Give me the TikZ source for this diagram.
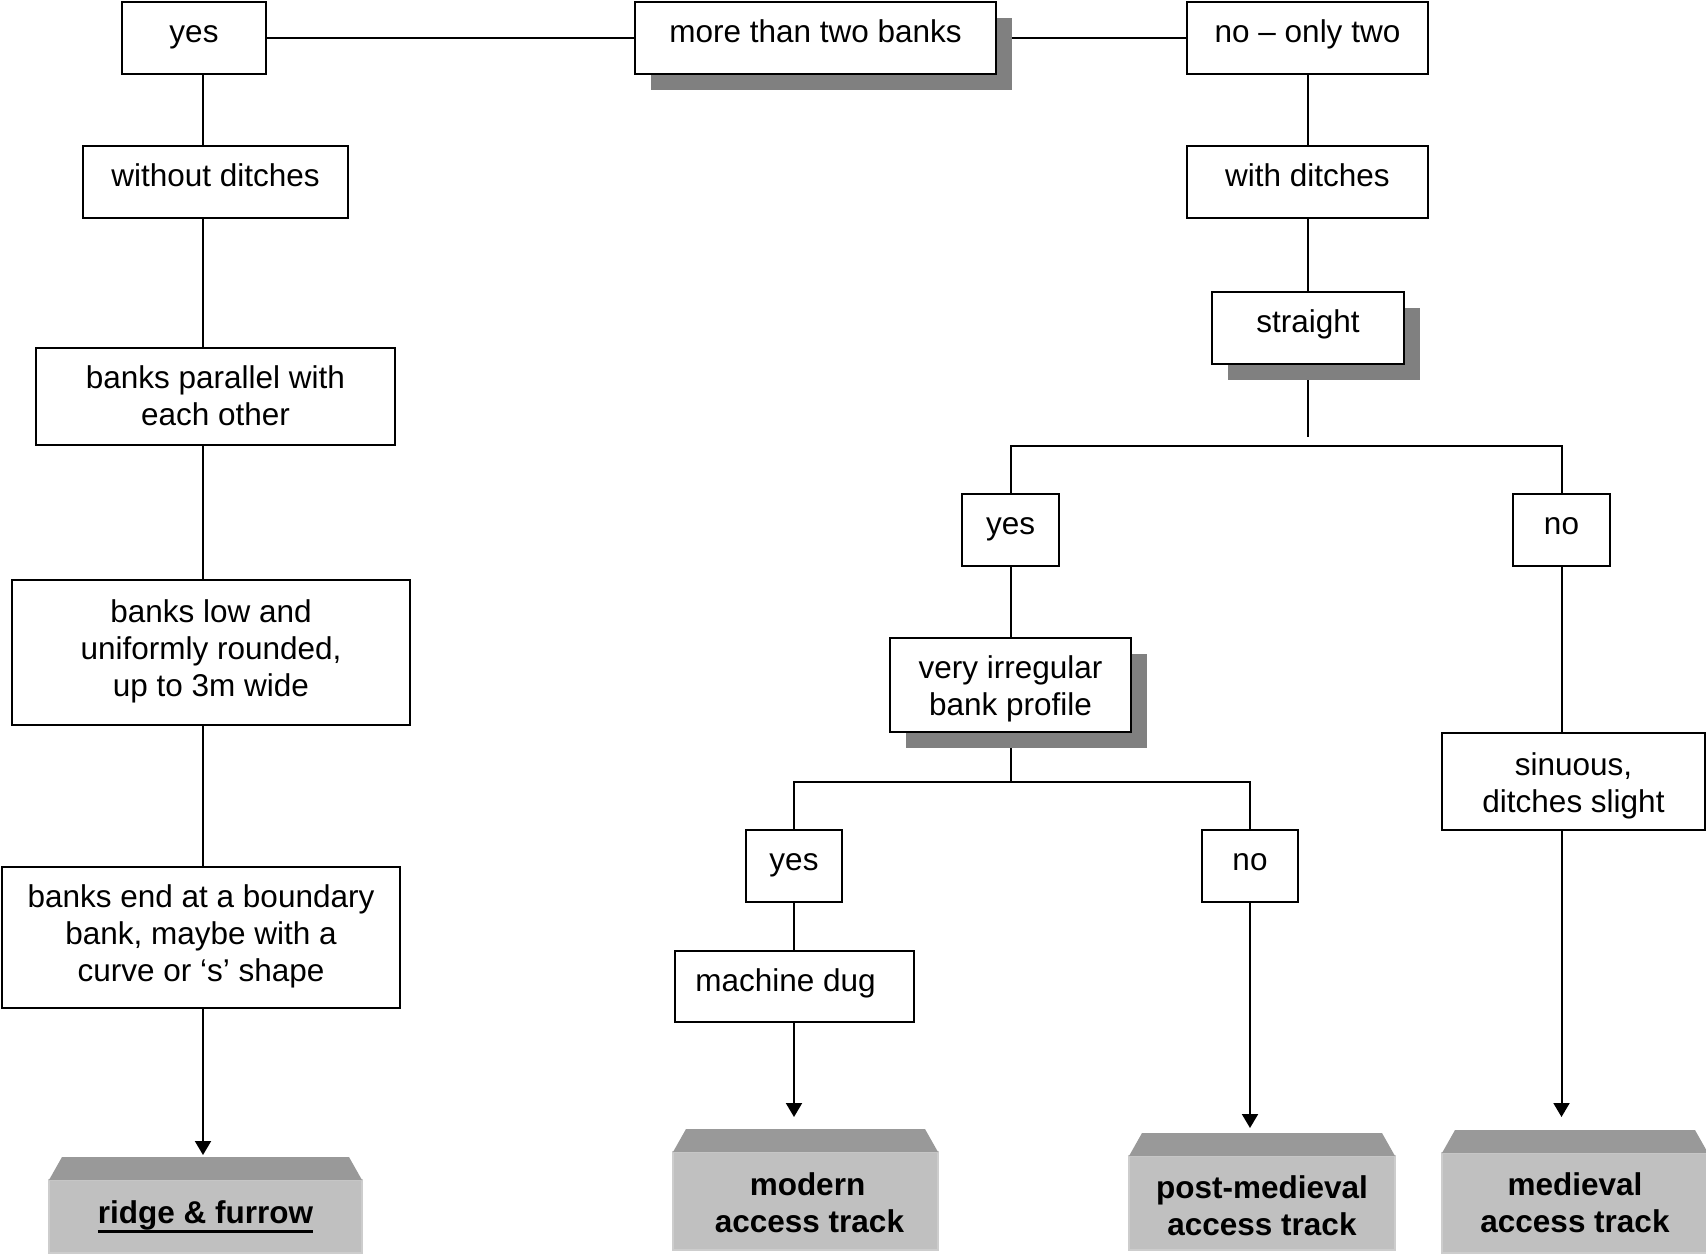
\documentclass[tikz,border=0pt]{standalone}
\usepackage{fontspec}
\setmainfont{Liberation Sans}
\usetikzlibrary{arrows.meta,shadows,backgrounds}
\definecolor{shadowgray}{HTML}{808080}
\definecolor{bevelgray}{HTML}{999999}
\definecolor{bodygray}{HTML}{C0C0C0}
\definecolor{edgegray}{HTML}{CDCDCD}
\newcommand\ulbar[1]{\setbox0=\hbox{#1}\rlap{\rule[-9.5pt]{\wd0}{3pt}}\box0}
\newcommand\hs[1]{\rule{0pt}{#1}}
\newcommand\ds[1]{\rule[-#1]{0pt}{#1}}
\tikzset{
  box/.style={draw=black, line width=2.2pt, fill=white, inner sep=0pt, align=center,
    font=\fontsize{31.5}{37}\selectfont},
  shadowed/.style={box, drop shadow={shadow xshift=16pt, shadow yshift=-16pt, fill=shadowgray, opacity=1}},
  term/.style={draw=edgegray, line width=1.5pt, fill=bodygray, inner sep=0pt, outer sep=0pt, align=center,
    font=\bfseries\fontsize{31.5}{37}\selectfont},
  bevel/.style={fill=bevelgray},
  conn/.style={draw=black, line width=2pt},
  arr/.style={conn, -{Triangle[width=16pt,length=14pt]}}
}
\begin{document}
\begin{tikzpicture}[x=1pt,y=-1pt]
\useasboundingbox (0,0) rectangle (1706,1254);
% decision boxes
\node[box, minimum width=144pt, minimum height=72pt] (yes1) at (194,38) {\strut yes\ds{17pt}};
\node[shadowed, minimum width=361pt, minimum height=72pt] (more) at (815.5,38) {\strut more than two banks\ds{17pt}};
\node[box, minimum width=241pt, minimum height=72pt] (no1) at (1307.5,38) {\strut no – only two\ds{17pt}};
\node[box, minimum width=265pt, minimum height=72pt] (without) at (215.5,182) {\strut without ditches\ds{17pt}};
\node[box, minimum width=241pt, minimum height=72pt] (with) at (1307.5,182) {\strut with ditches\ds{17pt}};
\node[shadowed, minimum width=192pt, minimum height=72pt] (straight) at (1308,328) {\strut straight\ds{17pt}};
\node[box, minimum width=359pt, minimum height=97pt] (parallel) at (215.5,396.5) {\hs{32pt}banks parallel with\\\strut each other};
\node[box, minimum width=398pt, minimum height=145pt] (low) at (211,652.5) {\strut banks low and\\\strut uniformly rounded,\\\strut up to 3m wide};
\node[box, minimum width=398pt, minimum height=141pt] (boundary) at (201,937.5) {\strut banks end at a boundary\\\strut bank, maybe with a\\\strut curve or ‘s’ shape};
\node[box, minimum width=97pt, minimum height=72pt] (yes2) at (1010.5,530) {\strut yes\ds{17pt}};
\node[box, minimum width=97pt, minimum height=72pt] (no2) at (1561.5,530) {\strut no\ds{17pt}};
\node[shadowed, minimum width=241pt, minimum height=94pt] (irregular) at (1010.5,685) {\hs{36pt}very irregular\\\strut bank profile};
\node[box, minimum width=96pt, minimum height=72pt] (yes3) at (794,866) {\strut yes\ds{17pt}};
\node[box, minimum width=96pt, minimum height=72pt] (no3) at (1250,866) {\strut no\ds{17pt}};
\node[box, minimum width=239pt, minimum height=71pt] (machine) at (794.5,986.5) {\hspace*{-18pt}\strut machine dug\ds{15pt}};
\node[box, minimum width=263pt, minimum height=97pt] (sinuous) at (1573.5,781.5) {\hs{36pt}sinuous,\\\strut ditches slight};
% terminal boxes
\node[term, minimum width=313pt, minimum height=73pt] (ridge) at (205.5,1216.5) {\strut\ulbar{ridge \& furrow}};
\node[term, minimum width=265pt, minimum height=98pt] (modern) at (805.5,1201) {\hs{38pt}\hspace*{4pt}modern\\\strut\hspace*{8pt}access track};
\node[term, minimum width=266pt, minimum height=94pt] (post) at (1262,1203) {\hs{40pt}post-medieval\\\strut access track};
\node[term, minimum width=266pt, minimum height=100pt] (medieval) at (1575,1203) {\hs{34pt}medieval\\\strut access track};
\foreach \t in {ridge,modern,post,medieval}{
  \fill[bevel] (\t.north west) -- ([shift={(13pt,23pt)}]\t.north west) -- ([shift={(-13pt,23pt)}]\t.north east) -- (\t.north east) -- cycle;
}
% connectors
\coordinate (cL) at (203,0);
\coordinate (cR) at (1308,0);
\coordinate (sEnd) at (1308,437);
\coordinate (split1) at (0,446);
\coordinate (split2) at (0,782);
\begin{scope}[on background layer]
\draw[conn] (yes1.east) -- (more.west);
\draw[conn] (more.east) -- (no1.west);
\draw[conn] (cL |- yes1.south) -- (cL |- without.north);
\draw[conn] (cL |- without.south) -- (cL |- parallel.north);
\draw[conn] (cL |- parallel.south) -- (cL |- low.north);
\draw[conn] (cL |- low.south) -- (cL |- boundary.north);
\draw[arr] (cL |- boundary.south) -- ([yshift=25pt]cL |- ridge.north);
\draw[conn] (cR |- no1.south) -- (cR |- with.north);
\draw[conn] (cR |- with.south) -- (cR |- straight.north);
\draw[conn] (straight.south) -- (sEnd);
\draw[conn] (yes2.north) -- (yes2.north |- split1) -- (no2.north |- split1) -- (no2.north);
\draw[conn] (yes2.south) -- (irregular.north);
\draw[conn] (irregular.south) -- (irregular.south |- split2);
\draw[conn] (yes3.north) -- (yes3.north |- split2) -- (no3.north |- split2) -- (no3.north);
\draw[conn] (yes3.south) -- (yes3.south |- machine.north);
\draw[arr] (yes3.south |- machine.south) -- ([yshift=35pt]yes3.south |- modern.north);
\draw[arr] (no3.south) -- ([yshift=28pt]no3.south |- post.north);
\draw[conn] (no2.south) -- (no2.south |- sinuous.north);
\draw[arr] (no2.south |- sinuous.south) -- ([yshift=36pt]no2.south |- medieval.north);
\end{scope}
\end{tikzpicture}
\end{document}
